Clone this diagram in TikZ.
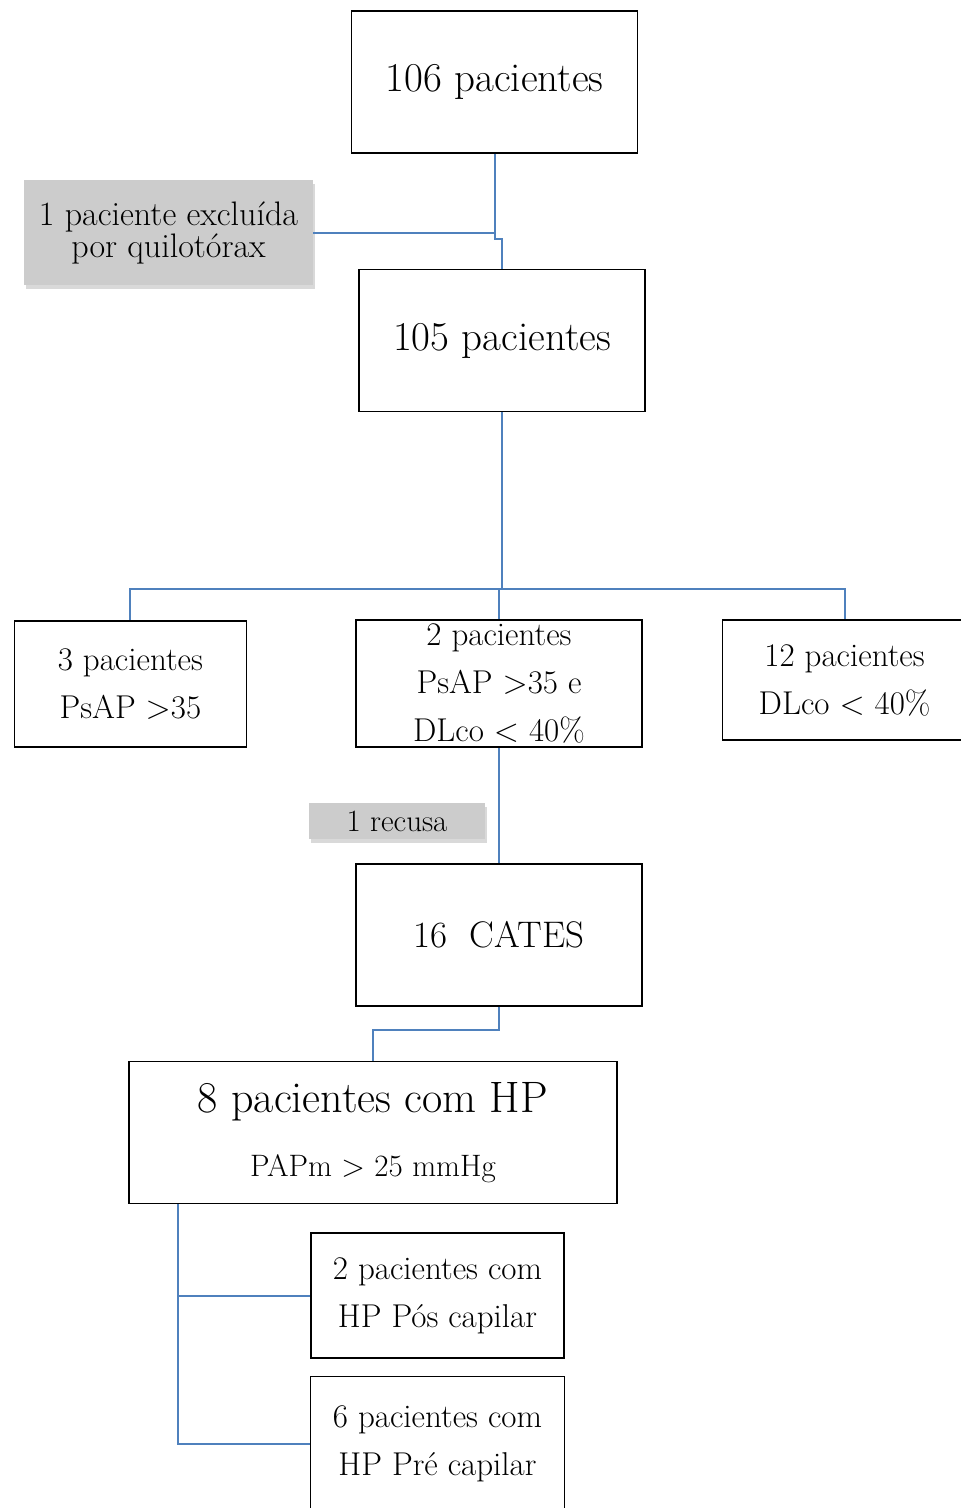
\documentclass[tikz,border=0pt]{standalone}
\usetikzlibrary{shapes, arrows}
\usetikzlibrary{positioning}
\usetikzlibrary{shadows, calc}
\definecolor{linkblue}{RGB}{79,129,189}
\definecolor{notegray}{RGB}{204,204,204}
\tikzstyle{process} = [rectangle, minimum width=286pt, minimum height=142pt, text centered, align=center, draw=black, line width=1.6pt, inner sep=1pt, font=\fontsize{33pt}{48pt}\selectfont]
\tikzstyle{bigtext} = [font=\fontsize{41pt}{44pt}\selectfont]
\tikzstyle{note} = [rectangle, fill=notegray, text centered, align=center, inner sep=0pt, drop shadow={shadow xshift=2pt, shadow yshift=-4pt, opacity=0.3}, font=\fontsize{34pt}{32pt}\selectfont]
\tikzstyle{link} = [draw=linkblue, line width=2pt]

\begin{document}
\begin{tikzpicture}[x=1pt, y=1pt]
    \useasboundingbox (0,0) rectangle (961,-1508);

    % Nodes
    \node (p106) [process, bigtext] at (494.5,-82) {106 pacientes};
    \node (p105) [process, bigtext, below=115pt of p106, xshift=7.5pt] {105 pacientes};
    \node (excl) [note, minimum width=289pt, minimum height=105pt] at (168.5,-232.5) {1 paciente excluída\\por quilotórax};
    \node (both) [process, minimum height=127pt, below=207pt of p105, xshift=-3pt] {2 pacientes\\PsAP >35 e\\DLco < 40\%};
    \node (psap) [process, minimum width=232pt, minimum height=126pt, left=108pt of both] {3 pacientes\\PsAP >35};
    \node (dlco) [process, minimum width=244pt, minimum height=120pt, right=79pt of both.north east, anchor=north west] {12 pacientes\\DLco < 40\%};
    \node (recusa) [note, minimum width=176pt, minimum height=36pt, font=\fontsize{31pt}{32pt}\selectfont] at (397,-821) {1 recusa};
    \node (cates) [process, font=\fontsize{37pt}{44pt}\selectfont, below=115pt of both] {16~~CATES};
    \node (hp) [process, minimum width=488pt, below=54pt of cates, xshift=-126pt, font=\fontsize{31pt}{48pt}\selectfont] {{\fontsize{44pt}{44pt}\selectfont 8 pacientes com HP}\\[16pt]PAPm > 25 mmHg};
    \node (pos) [process, minimum width=253pt, minimum height=125pt, below right=28pt and 182pt of hp.south west] {2 pacientes com\\HP Pós capilar};
    \node (pre) [process, minimum width=254pt, minimum height=135pt, below=17pt of pos] {6 pacientes com\\HP Pré capilar};

    % Connectors
    \coordinate (j1) at (p106.south |- excl.east);
    \draw [link] (p106.south) -- (j1) -- (excl.east);
    \draw [link] (j1) -- ++(0,-6) -| (p105.north);
    \draw [link] (p105.south) -- ++(0,-177) coordinate (bus);
    \draw [link] (psap.north) |- (bus) -| (dlco.north);
    \draw [link] (both.north) -- (both.north |- bus);
    \draw [link] (both.south) -- (cates.north);
    \draw [link] (cates.south) -- ++(0,-23) -| (hp.north);
    \coordinate (trunk) at ($(hp.south west)+(50,0)$);
    \draw [link] (trunk) |- (pre.west);
    \draw [link] (trunk |- pos.west) -- (pos.west);

\end{tikzpicture}
\end{document}
